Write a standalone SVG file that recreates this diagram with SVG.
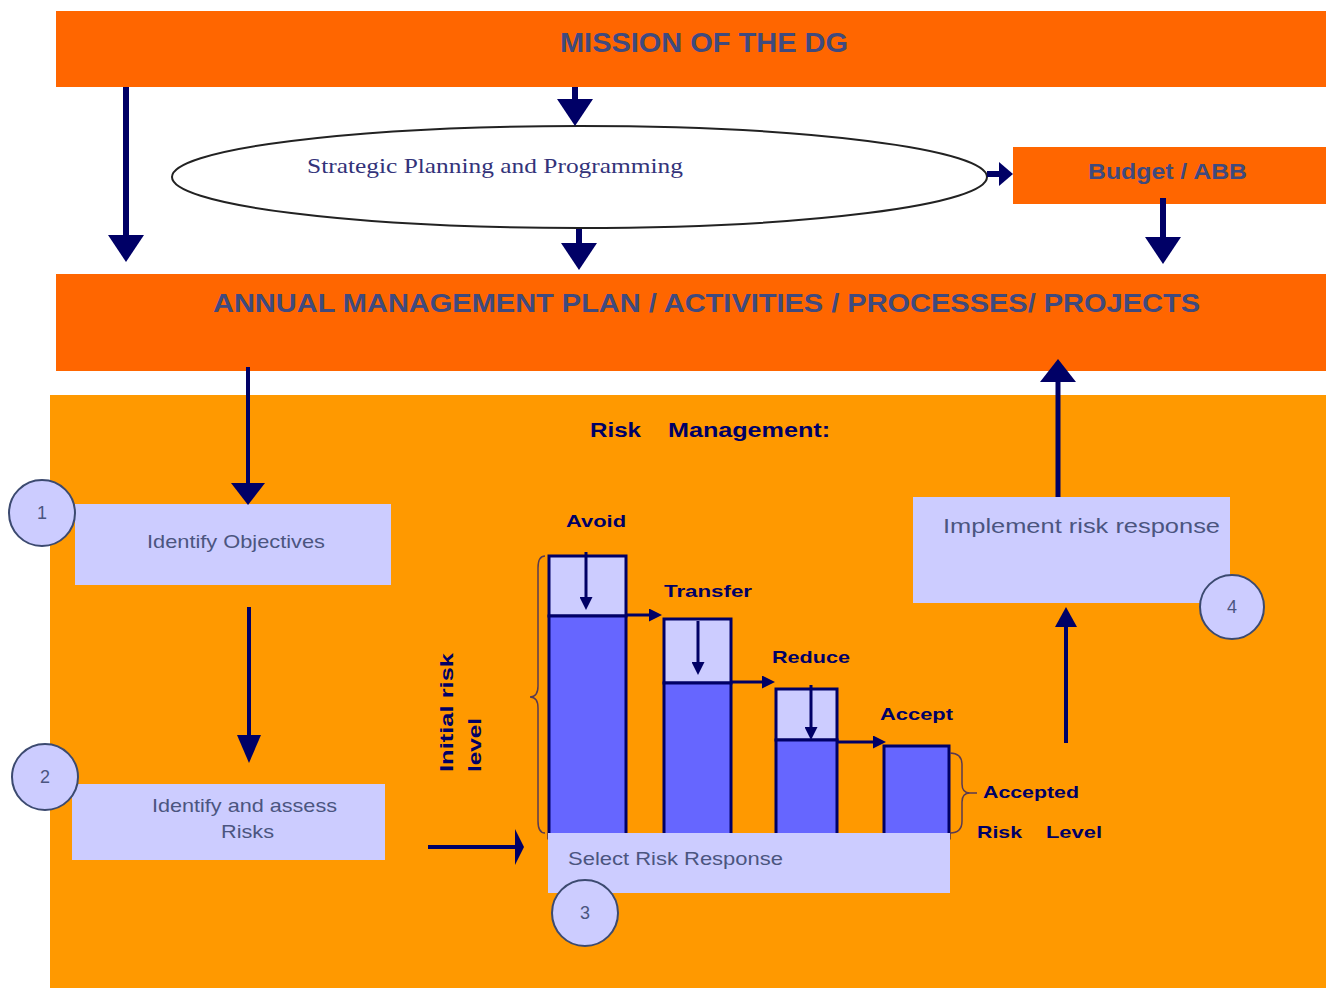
<svg xmlns="http://www.w3.org/2000/svg" width="1326" height="988" viewBox="0 0 1326 988">
<style>
.bar-dark{fill:#FF6600}
.box{fill:#CCCCFF}
.circ{fill:#CCCCFF;stroke:#3C4A70;stroke-width:2}
.num{font-family:"Liberation Sans",Arial,sans-serif;font-size:18px;fill:#4B5580;text-anchor:middle}
.head{font-family:"Liberation Sans",Arial,sans-serif;font-weight:bold;fill:#3F4A7E}
.lbl{font-family:"Liberation Sans",Arial,sans-serif;fill:#4B5580}
.bold{font-family:"Liberation Sans",Arial,sans-serif;font-weight:bold;fill:#000066}
.conn{stroke:#000066;fill:none}
.top{fill:#CCCCFF;stroke:#000066;stroke-width:3}
.low{fill:#6666FF;stroke:#000066;stroke-width:3}
.brace{fill:none;stroke:#5A3A50;stroke-width:1.5}
</style>
<defs>
<marker id="ah-big" markerUnits="userSpaceOnUse" markerWidth="27" markerHeight="36" refX="1" refY="18" orient="auto"><path d="M0,0 L27,18 L0,36 z" fill="#000066"/></marker>
<marker id="ah-med" markerUnits="userSpaceOnUse" markerWidth="22" markerHeight="34" refX="1" refY="17" orient="auto"><path d="M0,0 L22,17 L0,34 z" fill="#000066"/></marker>
<marker id="ah-narrow" markerUnits="userSpaceOnUse" markerWidth="28" markerHeight="24" refX="1" refY="12" orient="auto"><path d="M0,0 L28,12 L0,24 z" fill="#000066"/></marker>
<marker id="ah-up" markerUnits="userSpaceOnUse" markerWidth="23" markerHeight="36" refX="1" refY="18" orient="auto"><path d="M0,0 L23,18 L0,36 z" fill="#000066"/></marker>
<marker id="ah-small" markerUnits="userSpaceOnUse" markerWidth="20" markerHeight="22" refX="1" refY="11" orient="auto"><path d="M0,0 L20,11 L0,22 z" fill="#000066"/></marker>
<marker id="ah-short" markerUnits="userSpaceOnUse" markerWidth="14" markerHeight="24" refX="1" refY="12" orient="auto"><path d="M0,0 L14,12 L0,24 z" fill="#000066"/></marker>
<marker id="ah-thin" markerUnits="userSpaceOnUse" markerWidth="9" markerHeight="36" refX="1" refY="18" orient="auto"><path d="M0,0 L9,18 L0,36 z" fill="#000066"/></marker>
<marker id="ah-tiny" markerUnits="userSpaceOnUse" markerWidth="13" markerHeight="13" refX="1" refY="6.5" orient="auto"><path d="M0,0 L13,6.5 L0,13 z" fill="#000066"/></marker>
</defs>
<rect width="1326" height="988" fill="#FFFFFF"/>
<rect id="risk-area" x="50" y="395" width="1276" height="593" fill="#FF9900"/>
<g id="mission">
<rect class="bar-dark" x="56" y="11" width="1270" height="76"/>
<text class="head" x="560" y="52" font-size="27" textLength="288" lengthAdjust="spacingAndGlyphs">MISSION OF THE DG</text>
</g>
<g id="strategic">
<ellipse cx="579.5" cy="177" rx="407.5" ry="51" fill="#FFFFFF" stroke="#222222" stroke-width="2"/>
<text x="307" y="173" font-family="Liberation Serif,'Times New Roman',serif" font-size="22" fill="#33337A" textLength="376" lengthAdjust="spacingAndGlyphs">Strategic Planning and Programming</text>
</g>
<g id="budget">
<rect class="bar-dark" x="1013" y="147" width="313" height="57"/>
<text class="head" x="1088" y="179" font-size="22" textLength="159" lengthAdjust="spacingAndGlyphs">Budget / ABB</text>
</g>
<g id="amp">
<rect class="bar-dark" x="56" y="274" width="1270" height="97"/>
<text class="head" x="213" y="312" font-size="26" textLength="987" lengthAdjust="spacingAndGlyphs">ANNUAL MANAGEMENT PLAN / ACTIVITIES / PROCESSES/ PROJECTS</text>
</g>
<g id="risk-title">
<text class="bold" x="590" y="437" font-size="20" textLength="51" lengthAdjust="spacingAndGlyphs">Risk</text>
<text class="bold" x="668" y="437" font-size="20" textLength="162" lengthAdjust="spacingAndGlyphs">Management:</text>
</g>
<g id="identify-objectives">
<rect class="box" x="75" y="504" width="316" height="81"/>
<text class="lbl" x="147" y="548" font-size="19" textLength="178" lengthAdjust="spacingAndGlyphs">Identify Objectives</text>
<circle class="circ" cx="42" cy="513" r="33"/>
<text class="num" x="42" y="519">1</text>
</g>
<g id="identify-risks">
<rect class="box" x="72" y="784" width="313" height="76"/>
<text class="lbl" x="152" y="812" font-size="19" textLength="185" lengthAdjust="spacingAndGlyphs">Identify and assess</text>
<text class="lbl" x="221" y="838" font-size="19" textLength="53" lengthAdjust="spacingAndGlyphs">Risks</text>
<circle class="circ" cx="45" cy="777" r="33"/>
<text class="num" x="45" y="783">2</text>
</g>
<g id="risk-chart">
<rect class="top" x="549" y="556" width="77" height="60"/>
<rect class="low" x="549" y="616" width="77" height="222"/>
<rect class="top" x="664" y="619" width="67" height="64"/>
<rect class="low" x="664" y="683" width="67" height="155"/>
<rect class="top" x="776" y="689" width="61" height="51"/>
<rect class="low" x="776" y="740" width="61" height="98"/>
<rect class="low" x="884" y="746" width="65" height="92"/>
<text class="bold" x="566" y="527" font-size="17" textLength="60" lengthAdjust="spacingAndGlyphs">Avoid</text>
<text class="bold" x="664" y="597" font-size="17" textLength="88" lengthAdjust="spacingAndGlyphs">Transfer</text>
<text class="bold" x="772" y="663" font-size="17" textLength="78" lengthAdjust="spacingAndGlyphs">Reduce</text>
<text class="bold" x="880" y="720" font-size="17" textLength="73" lengthAdjust="spacingAndGlyphs">Accept</text>
<path class="brace" d="M545,556 Q538,556 538,568 L538,686 Q538,697 530,697 Q538,697 538,708 L538,821 Q538,833 545,833"/>
<path class="brace" d="M950,753 Q962,753 962,765 L962,784 Q962,793 970,793 L977,793 M970,793 Q962,793 962,802 L962,821 Q962,833 950,833"/>
<text class="bold" x="983" y="798" font-size="17" textLength="96" lengthAdjust="spacingAndGlyphs">Accepted</text>
<text class="bold" x="977" y="838" font-size="17" textLength="45" lengthAdjust="spacingAndGlyphs">Risk</text>
<text class="bold" x="1046" y="838" font-size="17" textLength="56" lengthAdjust="spacingAndGlyphs">Level</text>
<text class="bold" transform="translate(453,772) rotate(-90)" x="0" y="0" font-size="18" fill="#3A2A6A" textLength="119" lengthAdjust="spacingAndGlyphs">Initial risk</text>
<text class="bold" transform="translate(481,772) rotate(-90)" x="0" y="0" font-size="18" fill="#3A2A6A" textLength="54" lengthAdjust="spacingAndGlyphs">level</text>
</g>
<g id="select-response">
<rect class="box" x="548" y="833" width="402" height="60"/>
<text class="lbl" x="568" y="865" font-size="18" textLength="215" lengthAdjust="spacingAndGlyphs">Select Risk Response</text>
<circle class="circ" cx="585" cy="913" r="33"/>
<text class="num" x="585" y="919">3</text>
</g>
<g id="implement">
<rect class="box" x="913" y="497" width="317" height="106"/>
<text class="lbl" x="943" y="533" font-size="21" textLength="277" lengthAdjust="spacingAndGlyphs">Implement risk response</text>
<circle class="circ" cx="1232" cy="607" r="32"/>
<text class="num" x="1232" y="613">4</text>
</g>
<g id="connectors">
<line class="conn" stroke-width="6" x1="126" y1="87" x2="126" y2="236" marker-end="url(#ah-big)"/>
<line class="conn" stroke-width="6" x1="575" y1="87" x2="575" y2="100" marker-end="url(#ah-big)"/>
<line class="conn" stroke-width="6" x1="579" y1="229" x2="579" y2="244" marker-end="url(#ah-big)"/>
<line class="conn" stroke-width="6" x1="987" y1="174" x2="1000" y2="174" marker-end="url(#ah-short)"/>
<line class="conn" stroke-width="6" x1="1163" y1="198" x2="1163" y2="238" marker-end="url(#ah-big)"/>
<line class="conn" stroke-width="4" x1="248" y1="367" x2="248" y2="484" marker-end="url(#ah-med)"/>
<line class="conn" stroke-width="4" x1="249" y1="607" x2="249" y2="736" marker-end="url(#ah-narrow)"/>
<line class="conn" stroke-width="4" x1="428" y1="847" x2="516" y2="847" marker-end="url(#ah-thin)"/>
<line class="conn" stroke-width="4" x1="1066" y1="743" x2="1066" y2="626" marker-end="url(#ah-small)"/>
<line class="conn" stroke-width="5" x1="1058" y1="497" x2="1058" y2="381" marker-end="url(#ah-up)"/>
<line class="conn" stroke-width="3" x1="586" y1="552" x2="586" y2="598" marker-end="url(#ah-tiny)"/>
<line class="conn" stroke-width="3" x1="698" y1="621" x2="698" y2="663" marker-end="url(#ah-tiny)"/>
<line class="conn" stroke-width="3" x1="811" y1="685" x2="811" y2="728" marker-end="url(#ah-tiny)"/>
<line class="conn" stroke-width="3" x1="626" y1="615" x2="650" y2="615" marker-end="url(#ah-tiny)"/>
<line class="conn" stroke-width="3" x1="731" y1="682" x2="763" y2="682" marker-end="url(#ah-tiny)"/>
<line class="conn" stroke-width="3" x1="837" y1="742" x2="874" y2="742" marker-end="url(#ah-tiny)"/>
</g>
</svg>
